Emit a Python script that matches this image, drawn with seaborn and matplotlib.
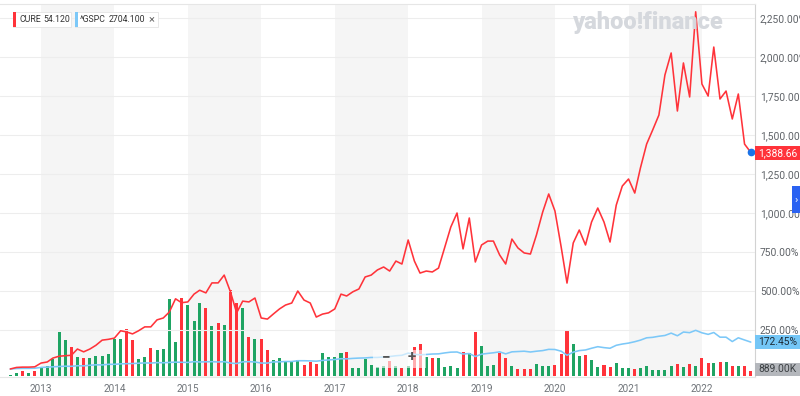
import pandas as pd
import matplotlib
matplotlib.use('Agg')
import matplotlib.pyplot as plt
from matplotlib.patches import Rectangle, FancyBboxPatch
import seaborn as sns

# monthly points, Aug 2012 .. Sep 2022
months = pd.date_range('2012-08-01', periods=122, freq='MS')

# CURE % change since first point
cure_pct = [0, 10, 12, 12, 14,
            38, 45, 70, 82, 85, 88, 128, 110, 128, 152, 185, 190,
            198, 245, 238, 225, 245, 270, 270, 315, 327, 365, 450, 425,
            430, 480, 505, 488, 552, 552, 602, 495, 360, 435, 430, 455,
            327, 320, 352, 385, 410, 423, 500, 442, 423, 333, 352, 360,
            385, 480, 468, 495, 513, 590, 602, 635, 654, 628, 692, 673,
            827, 692, 615, 628, 622, 647, 776, 910, 1000, 770, 968, 686,
            795, 820, 820, 731, 673, 833, 776, 744, 737, 859, 1006, 1122,
            1013, 782, 551, 808, 891, 795, 942, 1032, 942, 814, 1051, 1173,
            1218, 1128, 1288, 1442, 1532, 1628, 1885, 2026, 1654, 1962, 1744, 2290,
            1827, 1750, 2064, 1731, 1782, 1603, 1763, 1442, 1388.66]

# ^GSPC % change since first point
gspc_pct = [0, 3, 4, 4, 5,
            10, 12, 14, 16, 18, 17, 21, 20, 24, 27, 26, 30,
            30, 33, 34, 35, 37, 39, 38, 41, 40, 42, 44, 43,
            42, 47, 45, 46, 47, 45, 47, 38, 35, 46, 47, 45,
            38, 38, 45, 46, 48, 48, 53, 53, 52, 50, 55, 58,
            61, 66, 65, 68, 70, 71, 74, 74, 77, 80, 85, 88,
            102, 94, 91, 93, 96, 97, 103, 108, 109, 96, 99, 80,
            95, 100, 104, 110, 97, 110, 112, 114, 109, 114, 118, 126,
            125, 114, 88, 108, 118, 122, 133, 143, 137, 133, 152, 160,
            166, 175, 185, 200, 203, 210, 215, 230, 213, 237, 233, 248,
            232, 222, 234, 204, 204, 176, 200, 186, 172.45]

# CURE monthly volume, millions
volume_m = [0.18, 0.53, 0.89, 0.53, 0.89, 1.60, 1.78, 3.03, 7.83, 6.41,
            5.16, 3.38, 3.20, 3.20, 3.56, 3.56, 3.92, 6.59, 6.59, 8.37,
            6.41, 3.03, 3.38, 4.98, 4.63, 4.81, 13.71, 6.05, 13.88, 12.64,
            9.79, 12.99, 12.10, 8.90, 9.43, 9.08, 15.31, 12.99, 12.10, 6.94,
            6.59, 6.59, 4.63, 2.85, 3.20, 2.67, 2.67, 2.85, 1.96, 2.49,
            2.14, 4.09, 3.38, 3.38, 4.09, 4.27, 1.42, 1.42, 3.03, 1.96,
            1.60, 1.78, 2.67, 1.78, 1.42, 1.78, 5.16, 5.70, 3.38, 3.20,
            3.20, 1.60, 1.78, 1.42, 4.27, 4.09, 7.83, 5.34, 1.78, 1.96,
            4.09, 3.20, 1.78, 1.25, 1.25, 1.25, 2.14, 1.78, 1.78, 1.96,
            3.92, 8.19, 5.70, 3.56, 3.74, 2.85, 1.60, 1.96, 1.60, 2.31,
            1.42, 1.42, 1.25, 1.42, 1.78, 1.07, 1.07, 1.07, 1.78, 2.14,
            1.60, 2.14, 1.78, 3.20, 2.31, 2.31, 2.49, 2.49, 1.78, 1.78,
            1.78, 0.889]
# G = up month, R = down month
volume_dir = ("GGRGRGGGGG" "RGRGGGGGGR" "RGGRGGGGRG" "GGRGRGRRGR" "GRRGGGGGRR"
              "RGGGGRGGGG" "GGRGRGRRGR" "GGGGRGRGGG" "RRGRRRGGGR" "RRGGRGGRRG"
              "GGRGGGGGGR" "GRGRRGRGRG" "RR")

years = list(range(2013, 2023))
pct_ticks = list(range(250, 2251, 250))

RED = '#ff333a'
BLUE = '#7cc8f8'
GREEN = '#1fa463'

sns.set_style('white')
plt.rcParams['font.family'] = ['Roboto', 'DejaVu Sans']

W, H = 800, 396
fig = plt.figure(figsize=(W / 100, H / 100), dpi=100)
top_px, bot_px, right_px = 4, 377, 755
ax = fig.add_axes([0, 1 - bot_px / H, right_px / W, (bot_px - top_px) / H])


def fx(x):
    return x / W


def fy(y):
    return 1 - y / H


# year bands
for y in range(2013, 2023, 2):
    ax.axvspan(pd.Timestamp(f'{y}-01-01'), pd.Timestamp(f'{y + 1}-01-01'),
               color='#f5f5f5', zorder=0, lw=0)

# volume bars
bar_colors = [GREEN if d == 'G' else RED for d in volume_dir]
ax.bar(months, volume_m, width=15, color=bar_colors, linewidth=0, zorder=2)
ax.set_ylim(-0.178, 66.2)
ax.set_yticks([])
ax.set_xlim(pd.Timestamp('2012-06-11'), pd.Timestamp('2022-09-22'))
ax.set_xticks([pd.Timestamp(f'{y}-01-01') for y in years])
ax.set_xticklabels([str(y) for y in years])
ax.tick_params(axis='x', length=3, color='#d0d0d0', labelsize=7.2,
               labelcolor='#70757a', pad=2)
ax.spines['left'].set_visible(False)
ax.spines['top'].set_color('#e6e6e6')
ax.spines['bottom'].set_color('#e6e6e6')
ax.spines['right'].set_color('#d2d2d2')
for s in ax.spines.values():
    s.set_linewidth(0.8)

# percent lines
ax2 = ax.twinx()
df = pd.DataFrame({
    'date': list(months) * 2,
    'pct': cure_pct + gspc_pct,
    'symbol': ['CURE'] * len(months) + ['^GSPC'] * len(months),
})
sns.lineplot(data=df, x='date', y='pct', hue='symbol', ax=ax2,
             palette={'CURE': RED, '^GSPC': BLUE}, hue_order=['^GSPC', 'CURE'],
             linewidth=1.15, legend=False)
ax2.plot(months[-1], cure_pct[-1], 'o', ms=4.5, color='#1a73e8',
         zorder=5, clip_on=False)
ax2.set_ylim(-51.3, 2340)
ax2.set_xlim(pd.Timestamp('2012-06-11'), pd.Timestamp('2022-09-22'))
ax2.set_yticks(pct_ticks)
ax2.set_yticklabels([f'{v:,.2f}%' for v in pct_ticks])
ax2.tick_params(axis='y', length=0, pad=3.6, labelsize=7.4, labelcolor='#5f6368')
ax2.grid(axis='y', color='#ededed', linewidth=0.8)
ax2.set_axisbelow(True)
ax2.set_xlabel('')
ax2.set_ylabel('')
for s in ax2.spines.values():
    s.set_visible(False)


# legend chips
def chip(x0, x1, y0, y1, color):
    fig.add_artist(FancyBboxPatch((fx(x0), fy(y1)), fx(x1 - x0), (y1 - y0) / H,
                                  boxstyle='square,pad=0', transform=fig.transFigure,
                                  facecolor='white', edgecolor='#e4e4e4', lw=0.6))
    fig.add_artist(Rectangle((fx(x0), fy(y1)), fx(3), (y1 - y0) / H,
                             transform=fig.transFigure, color=color, lw=0))


chip_font = dict(fontsize=6.3, color='#333333', va='center', ha='left')
chip(13, 71, 12, 27, RED)
fig.text(fx(19), fy(19.5), 'CURE', **chip_font)
fig.text(fx(43), fy(19.5), '54.120', **chip_font)
chip(75, 158, 12, 27, BLUE)
fig.text(fx(80), fy(19.5), '^GSPC', **chip_font)
fig.text(fx(109), fy(19.5), '2704.100', **chip_font)
fig.text(fx(149), fy(19.5), '\u00d7', fontsize=8, color='#666666', va='center')

# watermark
fig.text(fx(572), fy(22), 'yahoo!finance', fontsize=17, fontweight='black',
         color='#d5d8dd', va='center', ha='left')


# right side value tags
def tag(y0, y1, text, face, tcolor):
    fig.add_artist(Rectangle((fx(755), fy(y1)), fx(45), (y1 - y0) / H,
                             transform=fig.transFigure, color=face, lw=0))
    fig.text(fx(758), fy((y0 + y1) / 2), text, fontsize=7.4, color=tcolor,
             va='center', ha='left')


tag(146, 160, f'{cure_pct[-1]:,.2f}', RED, 'white')
tag(335, 349, f'{gspc_pct[-1]:.2f}%', '#74c6f6', '#1d2b36')
tag(363, 376, f'{volume_m[-1] * 1000:.2f}K', '#b4b7bc', '#3c4043')

# side tab
fig.add_artist(Rectangle((fx(792), fy(213)), fx(8), 27 / H,
                         transform=fig.transFigure, color='#2a62f2', lw=0))
fig.text(fx(796), fy(200), '\u203a', fontsize=8, color='white',
         va='center', ha='center')

# zoom widget
fig.add_artist(FancyBboxPatch((fx(373), fy(368)), fx(53), 18 / H,
                              boxstyle='square,pad=0', transform=fig.transFigure,
                              facecolor='white', alpha=0.6, lw=0))
fig.text(fx(386), fy(357), '\u2212', fontsize=11, fontweight='bold',
         color='#555555', va='center', ha='center')
fig.text(fx(412), fy(357), '+', fontsize=11, fontweight='bold',
         color='#555555', va='center', ha='center')

fig.savefig('out.png', dpi=100)
